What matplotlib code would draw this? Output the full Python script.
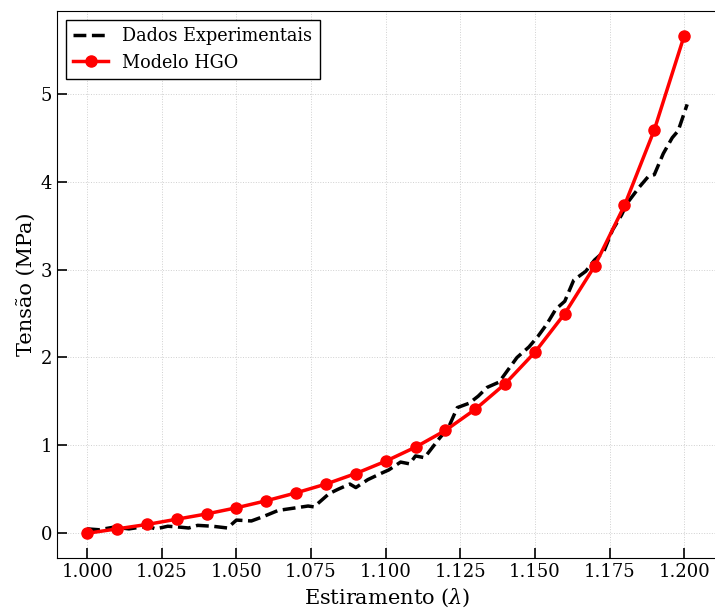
# -*- coding: utf-8 -*-
"""
Curva tensão x estiramento: dados experimentais vs modelo HGO.
"""

import matplotlib.pyplot as plt
from matplotlib.ticker import FormatStrFormatter

lambda_exp = [1.000, 1.004, 1.009, 1.014, 1.020, 1.023, 1.027, 1.031, 1.034,
              1.037, 1.042, 1.047, 1.050, 1.055, 1.059, 1.064, 1.070, 1.074,
              1.076, 1.081, 1.084, 1.088, 1.090, 1.094, 1.099, 1.101, 1.105,
              1.108, 1.110, 1.113, 1.118, 1.121, 1.124, 1.128, 1.131, 1.134,
              1.138, 1.141, 1.144, 1.148, 1.151, 1.154, 1.157, 1.160, 1.163,
              1.167, 1.170, 1.173, 1.176, 1.179, 1.181, 1.185, 1.188, 1.190,
              1.193, 1.196, 1.198, 1.201]
tensao_exp = [0.05, 0.04, 0.07, 0.05, 0.08, 0.05, 0.08, 0.07, 0.06,
              0.09, 0.08, 0.06, 0.15, 0.14, 0.19, 0.26, 0.29, 0.31,
              0.30, 0.45, 0.50, 0.56, 0.52, 0.61, 0.69, 0.72, 0.81,
              0.79, 0.88, 0.86, 1.08, 1.20, 1.43, 1.48, 1.56, 1.66,
              1.72, 1.86, 2.00, 2.12, 2.24, 2.38, 2.55, 2.64, 2.88,
              2.98, 3.11, 3.20, 3.45, 3.62, 3.76, 3.94, 4.06, 4.08,
              4.32, 4.50, 4.58, 4.88]

# modelo HGO
lambda_hgo = [1.00, 1.01, 1.02, 1.03, 1.04, 1.05, 1.06, 1.07, 1.08, 1.09, 1.10,
              1.11, 1.12, 1.13, 1.14, 1.15, 1.16, 1.17, 1.18, 1.19, 1.20]
tensao_hgo = [0.00, 0.05, 0.10, 0.16, 0.22, 0.29, 0.37, 0.46, 0.56, 0.68, 0.82,
              0.98, 1.17, 1.41, 1.70, 2.06, 2.50, 3.04, 3.73, 4.59, 5.66]

plt.rcParams['font.family'] = 'DejaVu Serif'
plt.rcParams['mathtext.fontset'] = 'dejavuserif'

fig, ax = plt.subplots(figsize=(7.15, 6.08), dpi=100)
fig.subplots_adjust(left=0.08, right=1.003, bottom=0.082, top=0.982)

ax.plot(lambda_exp, tensao_exp, '--', color='black', lw=2.5,
        label='Dados Experimentais')
ax.plot(lambda_hgo, tensao_hgo, '-o', color='red', lw=2.5, ms=8,
        label='Modelo HGO')

ax.set_xlabel(r'Estiramento ($\lambda$)', fontsize=15)
ax.set_ylabel('Tensão (MPa)', fontsize=15)
ax.set_xticks([1.000, 1.025, 1.050, 1.075, 1.100, 1.125, 1.150, 1.175, 1.200])
ax.set_yticks([0, 1, 2, 3, 4, 5])
ax.xaxis.set_major_formatter(FormatStrFormatter('%.3f'))
ax.tick_params(direction='in', labelsize=13, length=7, width=1.2)
ax.grid(True, linestyle=':', color='#d0d0d0', linewidth=0.7)

leg = ax.legend(loc='upper left', fontsize=12.7, fancybox=False,
                edgecolor='black', framealpha=1)
leg.get_frame().set_linewidth(1.0)

plt.savefig('out.png', dpi=100)
plt.close()
